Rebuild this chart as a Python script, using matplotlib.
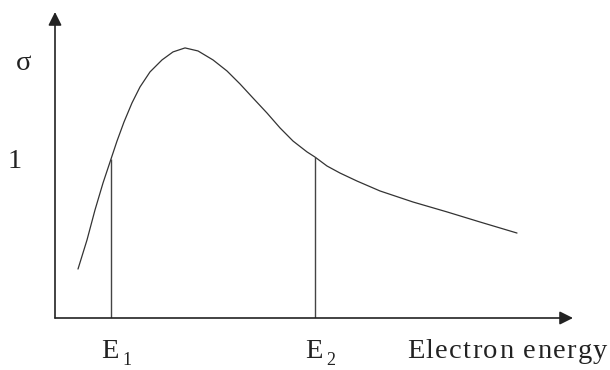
import matplotlib
matplotlib.use("Agg")
import matplotlib.pyplot as plt
from matplotlib.font_manager import FontProperties
import numpy as np

# Data (arbitrary units)
energy = [0.444, 0.618, 0.772, 0.927, 1.062, 1.197, 1.332, 1.486, 1.641, 1.834,
          2.066, 2.278, 2.510, 2.761, 3.050, 3.320, 3.571, 3.822, 4.093, 4.344,
          4.595, 4.865, 5.019, 5.251, 5.502, 5.830, 6.274, 6.911, 7.568, 8.205,
          8.919]
sigma = [0.306, 0.488, 0.675, 0.844, 0.975, 1.106, 1.225, 1.344, 1.444, 1.538,
         1.613, 1.663, 1.688, 1.669, 1.613, 1.544, 1.463, 1.375, 1.281, 1.188,
         1.106, 1.038, 1.006, 0.950, 0.906, 0.856, 0.794, 0.725, 0.663, 0.600,
         0.531]
marks = [1.081, 5.02]
mark_labels = ["E", "E"]
mark_subs = ["1", "2"]
ytick_value = 1
ytick_label = "1"
xlabel = "Electron energy"
ylabel = "σ"

W, H = 610, 370
fig = plt.figure(figsize=(W / 100, H / 100), dpi=100)
ax = fig.add_axes([55 / W, (H - 318) / H, 518 / W, 306 / H])
ax.set_xlim(0, 10)
ax.set_ylim(0, 306 / 160)
ax.axis("off")

font = dict(family="Liberation Serif", color="#222222")
FS = 20.5

# axes with arrows
arrow = dict(arrowstyle="-|>,head_length=0.8,head_width=0.4", color="#222222",
             lw=1.2, shrinkA=0, shrinkB=0)
ax.annotate("", xy=(1, 0), xytext=(0, 0), xycoords="axes fraction", arrowprops=arrow)
ax.annotate("", xy=(0, 1), xytext=(0, 0), xycoords="axes fraction", arrowprops=arrow)

# curve
ax.plot(energy, sigma, color="#333333", lw=0.9, solid_joinstyle="round",
        solid_capstyle="round")

# vertical markers
tops = np.interp(marks, energy, sigma)
ax.vlines(marks, 0, tops, color="#444444", lw=1.0)

# labels
for m, lab, sub in zip(marks, mark_labels, mark_subs):
    ax.annotate(lab, xy=(m, 0), xycoords="data", xytext=(-1, -40),
                textcoords="offset pixels", ha="center", va="baseline",
                fontsize=FS, **font)
    ax.annotate(sub, xy=(m, 0), xycoords="data", xytext=(11, -47),
                textcoords="offset pixels", ha="left", va="baseline",
                fontsize=13, **font)

# x label with slight letter spacing, like the original
renderer = fig.canvas.get_renderer()
prop = FontProperties(family="Liberation Serif", size=FS)


def tw(s):
    w, h, d = renderer.get_text_width_height_descent(s, prop, ismath=False)
    return w


extra = 1.4
for i, ch in enumerate(xlabel):
    if ch == " ":
        continue
    left = tw(xlabel[:i + 1]) - tw(ch)
    ax.annotate(ch, xy=(6.795, 0), xycoords="data",
                xytext=(left + extra * i, -40), textcoords="offset pixels",
                ha="left", va="baseline", fontsize=FS, **font)

ax.annotate(ytick_label, xy=(0, ytick_value), xycoords=("axes fraction", "data"),
            xytext=(-40, -10), textcoords="offset pixels", ha="center",
            va="baseline", fontsize=FS, **font)
ax.annotate(ylabel, xy=(0, 1.55), xycoords=("axes fraction", "data"),
            xytext=(-31, 0), textcoords="offset pixels", ha="center",
            va="baseline", fontsize=FS, **font)

fig.savefig("out.png", dpi=100)
